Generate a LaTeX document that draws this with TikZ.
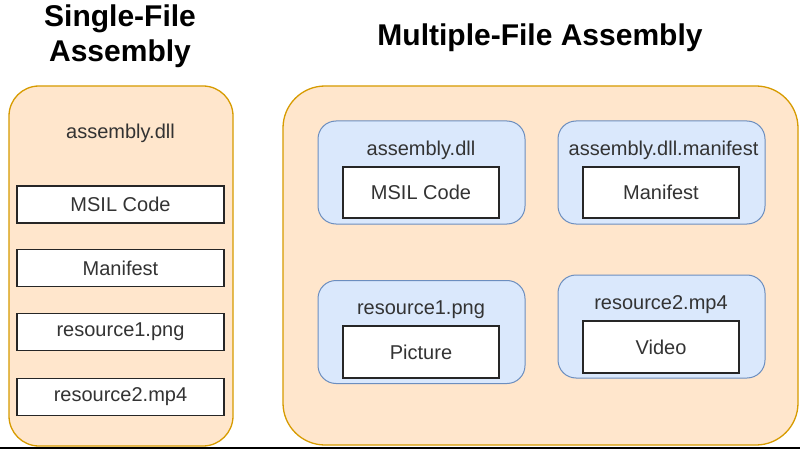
\documentclass[tikz,border=0pt]{standalone}
\usepackage{fontspec}
\setmainfont{Liberation Sans}
\definecolor{orfill}{HTML}{FFE6CC}
\definecolor{ordraw}{HTML}{D79B00}
\definecolor{blfill}{HTML}{DAE8FC}
\definecolor{bldraw}{HTML}{6C8EBF}
\definecolor{txt}{HTML}{333333}
\tikzset{
  container/.style={draw=ordraw, fill=orfill, line width=1.3pt, rectangle, inner sep=0pt},
  filebox/.style={draw=bldraw, fill=blfill, line width=1pt, rectangle, rounded corners=18pt,
    minimum width=207pt, minimum height=103pt, inner sep=0pt},
  partbox/.style={draw=black!85, fill=white, line width=1.3pt, rectangle, inner sep=0pt,
    text=txt, font=\fontsize{20}{24}\selectfont},
  lbl/.style={text=txt, font=\fontsize{20}{24}\selectfont, inner sep=0pt},
  title/.style={text=black, font=\fontsize{30}{36}\selectfont\bfseries, align=center, inner sep=0pt}
}
\begin{document}
\begin{tikzpicture}[x=1pt,y=-1pt]
\useasboundingbox (0,0) rectangle (800,449);
\fill[white] (0,0) rectangle (800,449);
\fill[black] (0,446.8) rectangle (800,449);
% titles
\node[title] (t1) at (120,36) {Single-File\\[-1pt]Assembly};
\node[title] (t2) at (540,38) {Multiple-File Assembly};
% left container
\node[container, rounded corners=30pt, minimum width=224pt, minimum height=360pt] (left) at (121,266) {};
\node[lbl] (ldll) at (120.5,133) {assembly.dll};
\node[partbox, minimum width=207pt, minimum height=37pt] (lmsil) at (120.5,204.5) {MSIL Code};
\node[partbox, minimum width=207pt, minimum height=37pt] (lman) at (120.5,268) {Manifest};
\node[partbox, minimum width=207pt, minimum height=37pt] (lres1) at (120.5,332) {resource1.png};
\node[partbox, minimum width=207pt, minimum height=37pt] (lres2) at (120.5,397) {resource2.mp4};
% right container
\node[container, rounded corners=42pt, minimum width=515pt, minimum height=359pt] (right) at (540.5,265.5) {};
% file boxes
\node[filebox] (f1) at (421.5,172.5) {};
\node[filebox] (f2) at (661.5,172.5) {};
\node[filebox] (f3) at (421.5,332) {};
\node[filebox] (f4) at (661.5,326.5) {};
\node[lbl] (f1l) at (421,150) {assembly.dll};
\node[lbl] (f2l) at (663.5,150) {assembly.dll.manifest};
\node[lbl] (f3l) at (421,310) {resource1.png};
\node[lbl] (f4l) at (661,305) {resource2.mp4};
\node[partbox, minimum width=156pt, minimum height=51pt] (p1) at (421,192.5) {MSIL Code};
\node[partbox, minimum width=156pt, minimum height=51pt] (p2) at (661,192.5) {Manifest};
\node[partbox, minimum width=156pt, minimum height=52pt] (p3) at (421,352) {Picture};
\node[partbox, minimum width=156pt, minimum height=52pt] (p4) at (661,347) {Video};
\end{tikzpicture}
\end{document}
